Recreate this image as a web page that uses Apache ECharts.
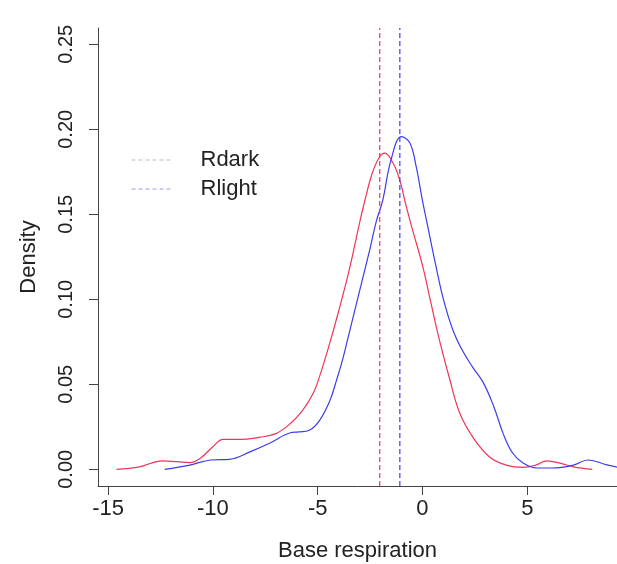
<!DOCTYPE html>
<html>
<head>
<meta charset="utf-8">
<script src="https://cdn.jsdelivr.net/npm/echarts@6/dist/echarts.min.js"></script>
<style>
html,body{margin:0;padding:0;background:#fff;}
#chart{width:617px;height:564px;}
</style>
</head>
<body>
<div id="chart"></div>
<script>
// Density of Rdark (red)
var redX = [-14.6, -13.5, -12.4, -11.7, -11.1, -10.6, -10.0, -9.5, -8.7, -7.8, -7.0, -6.3, -5.7, -5.2, -4.9, -4.5, -4.0, -3.5, -3.0, -2.75, -2.4, -2.04, -1.8, -1.4, -1.08, -0.84, -0.5, 0.0, 0.4, 0.83, 1.3, 1.78, 2.4, 3.2, 4.0, 4.8, 5.4, 5.93, 6.6, 7.2, 8.1];
var redY = [0.0, 0.0015, 0.005, 0.0045, 0.004, 0.0065, 0.0133, 0.0176, 0.0176, 0.0188, 0.021, 0.027, 0.035, 0.045, 0.055, 0.071, 0.093, 0.117, 0.145, 0.158, 0.174, 0.184, 0.186, 0.18, 0.170, 0.158, 0.142, 0.120, 0.098, 0.075, 0.053, 0.033, 0.019, 0.0073, 0.0025, 0.0012, 0.0025, 0.005, 0.0035, 0.0015, 0.0];
// Density of Rlight (blue)
var blueX = [-12.3, -11.1, -10.1, -9.2, -8.2, -7.3, -6.3, -5.9, -5.4, -4.9, -4.4, -4.1, -3.8, -3.5, -3.0, -2.5, -2.2, -1.9, -1.5, -1.0, -0.6, -0.3, 0.0, 0.3, 0.6, 1.0, 1.45, 1.9, 2.4, 2.9, 3.4, 3.85, 4.3, 4.8, 5.45, 6.2, 7.2, 7.9, 8.8, 9.3];
var blueY = [0.0, 0.0025, 0.0055, 0.0059, 0.0104, 0.0153, 0.0215, 0.022, 0.023, 0.029, 0.041, 0.0525, 0.065, 0.080, 0.105, 0.130, 0.146, 0.158, 0.182, 0.1957, 0.192, 0.178, 0.158, 0.14, 0.122, 0.10, 0.082, 0.070, 0.060, 0.051, 0.037, 0.021, 0.0096, 0.0037, 0.0008, 0.0008, 0.0025, 0.0055, 0.0026, 0.0013];
// Vertical reference lines (medians)
var lineNames = ['Rdark', 'Rlight'];
var lineValues = [-2.04, -1.08];
// Axis ticks
var xTicks = [-15, -10, -5, 0, 5];
var yTicks = [0, 0.05, 0.10, 0.15, 0.20, 0.25];

var X_MIN = -15.48, X_MAX = 9.28, Y_MIN = -0.0098, Y_MAX = 0.2596;
var RED = '#f0345a', BLUE = '#3c3cf0';
var FONT = "'Liberation Sans', Arial, sans-serif";

function pairs(xs, ys){ return xs.map(function(x,i){ return [x, ys[i]]; }); }

var chart = echarts.init(document.getElementById('chart'), null, {renderer:'canvas'});
chart.setOption({
  backgroundColor: '#fff',
  animation: false,
  textStyle: {fontFamily: FONT},
  grid: {left: 98, right: 0, top: 28, bottom: 78, containLabel: false, outerBoundsMode: 'none'},
  legend: {
    orient: 'vertical', left: 126, top: 144,
    itemWidth: 40, itemHeight: 14, itemGap: 7,
    textStyle: {fontSize: 22, color: '#222', fontFamily: FONT, lineHeight: 22, padding: [0,0,0,24]},
    data: [
      {name: 'Rdark', itemStyle: {opacity: 0}, lineStyle: {color: '#c9b7bd', type: [4,3], width: 1, opacity: 1}},
      {name: 'Rlight', itemStyle: {opacity: 0}, lineStyle: {color: '#9a9aec', type: [4,3], width: 1, opacity: 1}}
    ]
  },
  xAxis: {
    type: 'value', min: X_MIN, max: X_MAX,
    name: 'Base respiration', nameLocation: 'middle', nameGap: 54,
    nameTextStyle: {fontSize: 22, color: '#222', fontFamily: FONT},
    splitLine: {show: false},
    axisLine: {onZero: false, lineStyle: {color: '#444', width: 1}},
    axisTick: {show: true, length: 9, lineStyle: {color: '#444'}, customValues: xTicks},
    axisLabel: {fontSize: 22, color: '#222', margin: 12, customValues: xTicks, fontFamily: FONT,
      formatter: function(v){ return String(v); }}
  },
  yAxis: {
    type: 'value', min: Y_MIN, max: Y_MAX,
    name: 'Density', nameLocation: 'middle', nameGap: 58, nameRotate: 90,
    nameTextStyle: {fontSize: 22, color: '#222', fontFamily: FONT},
    splitLine: {show: false},
    axisLine: {show: true, onZero: false, lineStyle: {color: '#444', width: 1}},
    axisTick: {show: true, length: 9, lineStyle: {color: '#444'}, customValues: yTicks},
    axisLabel: {fontSize: 20, color: '#222', rotate: 90, margin: 22, customValues: yTicks, fontFamily: FONT,
      formatter: function(v){ return v.toFixed(2); }}
  },
  series: [
    {type: 'line', name: 'densRdark', data: pairs(redX, redY), smooth: 0.4,
     symbol: 'none', lineStyle: {color: RED, width: 1.2}, itemStyle: {color: RED}},
    {type: 'line', name: 'densRlight', data: pairs(blueX, blueY), smooth: 0.4,
     symbol: 'none', lineStyle: {color: BLUE, width: 1.2}, itemStyle: {color: BLUE}},
    {type: 'line', name: lineNames[0], data: [[lineValues[0], Y_MIN], [lineValues[0], Y_MAX]],
     symbol: 'none', lineStyle: {color: RED, width: 1.2, type: [5,3]}, itemStyle: {color: RED}},
    {type: 'line', name: lineNames[1], data: [[lineValues[1], Y_MIN], [lineValues[1], Y_MAX]],
     symbol: 'none', lineStyle: {color: BLUE, width: 1.2, type: [5,3]}, itemStyle: {color: BLUE}}
  ]
});
</script>
</body>
</html>
